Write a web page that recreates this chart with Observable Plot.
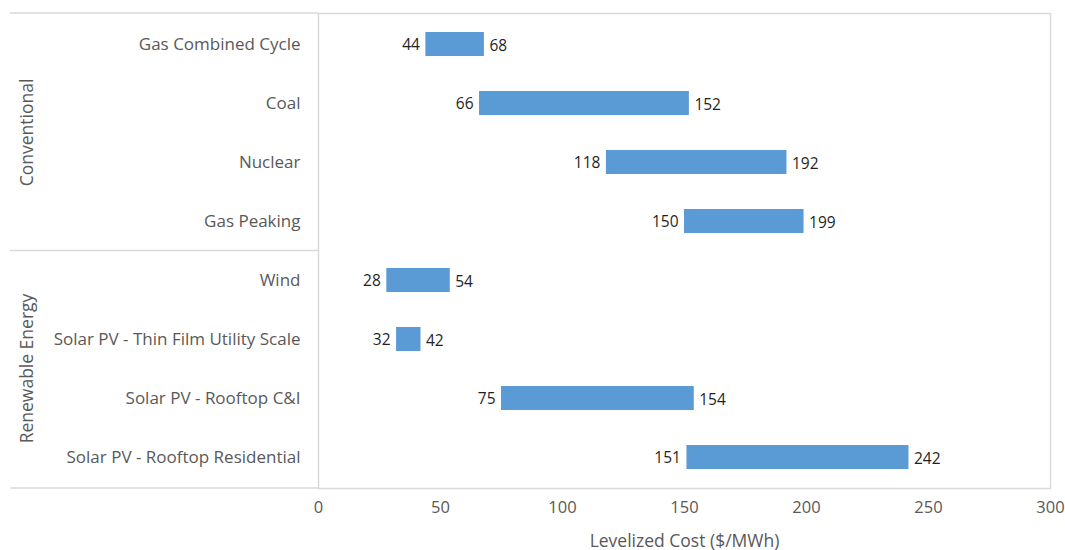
<!DOCTYPE html>
<html>
<head>
<meta charset="utf-8">
<script src="https://cdn.jsdelivr.net/npm/d3@7"></script>
<script src="https://cdn.jsdelivr.net/npm/@observablehq/plot@0.6"></script>
<style>
  html, body { margin: 0; padding: 0; background: #fff; }
  #chart { width: 1065px; height: 550px; }
</style>
</head>
<body>
<div id="chart"></div>
<script>
const categories = [
  "Gas Combined Cycle", "Coal", "Nuclear", "Gas Peaking",
  "Wind", "Solar PV - Thin Film Utility Scale", "Solar PV - Rooftop C&I", "Solar PV - Rooftop Residential"
];
const lowValues  = [44, 66, 118, 150, 28, 32, 75, 151];
const highValues = [68, 152, 192, 199, 54, 42, 154, 242];
const groups = [
  {name: "Conventional", first: 0, last: 3},
  {name: "Renewable Energy", first: 4, last: 7}
];
const xTicks = [0, 50, 100, 150, 200, 250, 300];

const data = categories.map((c, i) => ({category: c, low: lowValues[i], high: highValues[i]}));

const FONT = "'Open Sans', Lato, sans-serif";
const W = 1065, H = 550, ML = 318, MR = 15, MT = 13, MB = 62;
const gridColor = "#d9d9d9";

const plot = Plot.plot({
  width: W,
  height: H,
  marginLeft: ML,
  marginRight: MR,
  marginTop: MT,
  marginBottom: MB,
  style: {fontFamily: FONT, fontSize: "16px", color: "#595959", background: "#fff"},
  x: {domain: [0, 300], ticks: xTicks},
  y: {domain: categories, paddingInner: 0.6, paddingOuter: 0.3},
  marks: [
    Plot.frame({stroke: gridColor, strokeWidth: 1.5}),
    Plot.barX(data, {y: "category", x1: "low", x2: "high", fill: "#5B9BD5"}),
    Plot.text(data, {y: "category", x: "low", text: d => String(d.low), textAnchor: "end", dx: -6, dy: 1, fill: "#1f1f1f", fontSize: 15.5, fontWeight: 500}),
    Plot.text(data, {y: "category", x: "high", text: d => String(d.high), textAnchor: "start", dx: 5, dy: 2, fill: "#1f1f1f", fontSize: 15.5, fontWeight: 500}),
    Plot.axisY({tickSize: 0, tickPadding: 18, label: null, fill: "#595959", fontSize: 17}),
    Plot.axisX({ticks: xTicks, tickSize: 0, tickPadding: 13, label: "Levelized Cost ($/MWh)", labelAnchor: "center", labelOffset: 58, labelArrow: "none", fill: "#595959", fontSize: 16.5})
  ]
});

document.getElementById("chart").appendChild(plot);

// Extend frame lines into the left margin and add group labels
const svg = d3.select(plot);
svg.selectAll("[aria-label='x-axis label'] text").attr("font-size", 17.5);
const yScale = plot.scale("y");
const step = yScale.step;
const bandTop = i => yScale.apply(categories[i]) - (step - yScale.bandwidth) / 2;
const bandBottom = i => yScale.apply(categories[i]) + yScale.bandwidth + (step - yScale.bandwidth) / 2;

const g = svg.append("g");
const lineYs = [MT, H - MB, bandBottom(groups[0].last)];
lineYs.forEach(y => {
  g.append("line")
    .attr("x1", 10).attr("x2", ML)
    .attr("y1", y).attr("y2", y)
    .attr("stroke", gridColor).attr("stroke-width", 1.5);
});
groups.forEach(gr => {
  const cy = (bandTop(gr.first) + bandBottom(gr.last)) / 2;
  g.append("text")
    .attr("transform", `translate(27,${cy}) rotate(-90)`)
    .attr("text-anchor", "middle")
    .attr("dy", "0.35em")
    .attr("fill", "#595959")
    .attr("font-family", FONT)
    .attr("font-size", 17.5)
    .text(gr.name);
});
</script>
</body>
</html>
